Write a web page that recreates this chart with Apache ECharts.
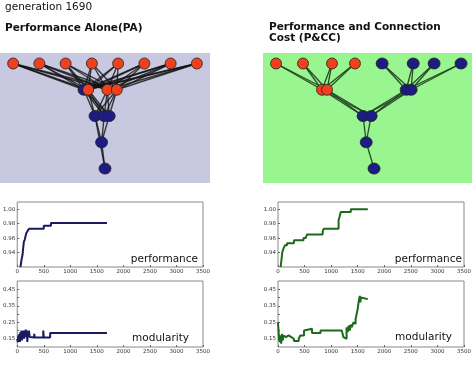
<!DOCTYPE html>
<html><head><meta charset="utf-8">
<script src="https://cdn.jsdelivr.net/npm/echarts@6/dist/echarts.min.js"></script>
<style>html,body{margin:0;padding:0;background:#fff}#c{width:474px;height:368px}</style>
</head><body><div id="c"></div>
<script>
// ---- texts ----
const generationText = 'generation 1690';
const titleLeft = 'Performance Alone(PA)';
const titleRight = 'Performance and Connection\nCost (P&CC)';
const perfLabel = 'performance';
const modLabel = 'modularity';

// ---- tick labels ----
const xTicks = [0, 500, 1000, 1500, 2000, 2500, 3000, 3500];
const perfTicks = [0.94, 0.96, 0.98, 1.00];
const modTicks = [0.15, 0.25, 0.35, 0.45];

// ---- network PA (x position, layer, group) ----
const paNodeX = [0.5, 1.5, 2.5, 3.5, 4.5, 5.5, 6.5, 7.5, 3.2, 3.36, 4.09, 4.45, 3.62, 3.97, 4.16, 3.87, 4.0];
const paNodeLayer = [0, 0, 0, 0, 0, 0, 0, 0, 1, 1, 1, 1, 2, 2, 2, 3, 4];
const paNodeGroup = ['r','r','r','r','r','r','r','r','b','r','r','r','b','b','b','b','b'];
const paEdges = [
  [0,8],[0,9],[0,10],[0,11],[1,8],[1,9],[1,10],[1,11],[2,8],[2,9],[2,10],[2,11],
  [3,8],[3,9],[3,10],[3,11],[4,8],[4,9],[4,10],[4,11],[5,8],[5,9],[5,10],[5,11],
  [6,8],[6,9],[6,10],[6,11],[7,8],[7,9],[7,10],[7,11],
  [8,12],[8,13],[8,14],[9,12],[9,13],[9,14],[10,12],[10,13],[10,14],[11,12],[11,13],[11,14],
  [12,15],[13,15],[14,15],[12,16],[15,16]
];

// ---- network P&CC ----
const pccNodeX = [0.5, 1.53, 2.64, 3.52, 4.56, 5.75, 6.55, 7.58, 2.26, 2.45, 5.48, 5.67, 3.83, 4.14, 3.95, 4.25];
const pccNodeLayer = [0, 0, 0, 0, 0, 0, 0, 0, 1, 1, 1, 1, 2, 2, 3, 4];
const pccNodeGroup = ['r','r','r','r','b','b','b','b','r','r','b','b','b','b','b','b'];
const pccEdges = [
  [0,8],[0,9],[1,8],[1,9],[2,8],[2,9],[3,8],[3,9],
  [4,10],[4,11],[5,10],[5,11],[6,10],[6,11],[7,10],[7,11],
  [8,12],[8,13],[9,12],[9,13],[10,12],[10,13],[11,12],[11,13],
  [12,14],[13,14],[14,15]
];

// ---- performance series ----
const paPerfGen = [60, 80, 100, 110, 125, 142, 160, 172, 195, 222, 500, 635, 1690];
const paPerfVal = [0.92, 0.93, 0.937, 0.945, 0.955, 0.958, 0.964, 0.967, 0.970, 0.973, 0.977, 0.981, 0.981];
const pccPerfGen = [50, 80, 100, 130, 170, 300, 480, 520, 545, 840, 860, 1140, 1160, 1180, 1370, 1690];
const pccPerfVal = [0.92, 0.94, 0.945, 0.95, 0.953, 0.957, 0.96, 0.962, 0.965, 0.969, 0.973, 0.985, 0.99, 0.996, 1.00, 1.00];

// ---- modularity series ----
const paModGen = [0, 10, 20, 30, 40, 50, 60, 70, 80, 90, 100, 110, 120, 130, 140, 150, 160, 170, 180, 190, 200, 210, 220, 235, 250, 320, 330, 490, 500, 620, 1100, 1110, 1690];
const paModVal = [0.15, 0.13, 0.17, 0.14, 0.18, 0.13, 0.19, 0.15, 0.20, 0.14, 0.19, 0.16, 0.20, 0.15, 0.20, 0.17, 0.205, 0.16, 0.20, 0.13, 0.19, 0.16, 0.20, 0.16, 0.157, 0.18, 0.157, 0.20, 0.157, 0.185, 0.175, 0.185, 0.185];
const pccModGen = [0, 20, 30, 45, 60, 75, 90, 105, 120, 150, 200, 250, 300, 390, 420, 440, 490, 520, 640, 800, 1200, 1230, 1260, 1290, 1310, 1330, 1350, 1370, 1390, 1420, 1440, 1460, 1480, 1500, 1520, 1540, 1550, 1560, 1580, 1690];
const pccModVal = [0.25, 0.15, 0.13, 0.17, 0.12, 0.18, 0.14, 0.17, 0.16, 0.17, 0.16, 0.15, 0.137, 0.15, 0.17, 0.17, 0.20, 0.21, 0.185, 0.20, 0.20, 0.16, 0.15, 0.22, 0.19, 0.23, 0.20, 0.235, 0.22, 0.25, 0.24, 0.27, 0.30, 0.33, 0.38, 0.41, 0.37, 0.40, 0.39, 0.39];

// ---- build ----
const RED = '#f0401c', BLUE = '#1c1c82';
const pair = (g, v) => g.map((x, i) => [x, v[i]]);
function nodes(xs, ls, gs) {
  return xs.map((x, i) => ({
    value: [x, ls[i]],
    symbolSize: gs[i] === 'b' ? [12, 11] : 11,
    itemStyle: { color: gs[i] === 'r' ? RED : BLUE, borderColor: '#222', borderWidth: 0.8 }
  }));
}
function links(es) { return es.map(e => ({ source: e[0], target: e[1] })); }

const chart = echarts.init(document.getElementById('c'), null, { renderer: 'canvas' });
const FONT = 'DejaVu Sans';
const netGrid = (l, w, bg) => ({ left: l, top: 53, width: w, height: 130, show: true, backgroundColor: bg, borderWidth: 0 });
const plotGrid = (l, t, h) => ({ left: l, top: t, width: 189, height: h, show: true, backgroundColor: '#fff', borderColor: '#888', borderWidth: 1 });

const hiddenX = (gi) => ({ gridIndex: gi, type: 'value', min: 0, max: 8, show: false });
const hiddenY = (gi) => ({ gridIndex: gi, type: 'value', min: -0.4, max: 4.55, inverse: true, show: false });
const plotX = (gi) => ({
  gridIndex: gi, type: 'value', min: 0, max: 3500, interval: 500,
  axisLine: { show: false }, splitLine: { show: false },
  axisTick: { inside: true, length: 2, lineStyle: { color: '#666' } },
  axisLabel: { fontSize: 5.5, color: '#333', margin: 2, fontFamily: FONT,
    formatter: v => xTicks.includes(v) ? String(v) : '' }
});
const perfY = (gi) => ({
  gridIndex: gi, type: 'value', min: 0.92, max: 1.01, interval: 0.02,
  axisLine: { show: false }, splitLine: { show: false },
  axisTick: { inside: true, length: 2, lineStyle: { color: '#666' } },
  axisLabel: { fontSize: 5.5, color: '#333', margin: 2, fontFamily: FONT, showMinLabel: false, showMaxLabel: false,
    formatter: v => perfTicks.some(t => Math.abs(t - v) < 1e-6) ? v.toFixed(2) : '' }
});
const modY = (gi) => ({
  gridIndex: gi, type: 'value', min: 0.10, max: 0.50, interval: 0.05,
  axisLine: { show: false }, splitLine: { show: false },
  axisTick: { inside: true, length: 2, lineStyle: { color: '#666' },
    interval: (i, v) => modTicks.some(t => Math.abs(t - v) < 1e-6) },
  axisLabel: { fontSize: 5.5, color: '#333', margin: 2, fontFamily: FONT, showMinLabel: false, showMaxLabel: false,
    formatter: v => modTicks.some(t => Math.abs(t - v) < 1e-6) ? v.toFixed(2) : '' }
});

const lineS = (xi, data, color) => ({
  type: 'line', xAxisIndex: xi, yAxisIndex: xi, data, step: 'end', showSymbol: false, symbol: 'none',
  lineStyle: { color, width: 2 }, animation: false, clip: true
});

const txt = (x, y, text, size, weight, align, lh) => ({
  type: 'text', x, y, style: { text, font: `${weight} ${size}px "${FONT}"`, fill: '#111', textAlign: align, textVerticalAlign: 'middle', lineHeight: lh }
});

chart.setOption({
  animation: false,
  backgroundColor: '#fff',
  grid: [
    netGrid(0, 210, '#c8c8e0'),
    netGrid(263, 209, '#98f590'),
    plotGrid(14, 202, 65),
    plotGrid(278, 202, 65),
    plotGrid(14, 281, 66),
    plotGrid(278, 281, 66)
  ],
  xAxis: [hiddenX(0), hiddenX(1), plotX(2), plotX(3), plotX(4), plotX(5)],
  yAxis: [hiddenY(0), hiddenY(1), perfY(2), perfY(3), modY(4), modY(5)],
  series: [
    { type: 'graph', coordinateSystem: 'cartesian2d', xAxisIndex: 0, yAxisIndex: 0, layout: 'none',
      data: nodes(paNodeX, paNodeLayer, paNodeGroup), links: links(paEdges),
      lineStyle: { color: '#111', width: 1.4, opacity: 0.8 }, label: { show: false }, emphasis: { disabled: true } },
    { type: 'graph', coordinateSystem: 'cartesian2d', xAxisIndex: 1, yAxisIndex: 1, layout: 'none',
      data: nodes(pccNodeX, pccNodeLayer, pccNodeGroup), links: links(pccEdges),
      lineStyle: { color: '#1d3a1d', width: 1.3, opacity: 0.9 }, label: { show: false }, emphasis: { disabled: true } },
    lineS(2, pair(paPerfGen, paPerfVal), '#1a1a60'),
    lineS(3, pair(pccPerfGen, pccPerfVal), '#1d6a1d'),
    lineS(4, pair(paModGen, paModVal), '#1a1a60'),
    lineS(5, pair(pccModGen, pccModVal), '#1d6a1d')
  ],
  graphic: [
    txt(5, 7, generationText, 10.5, 'normal', 'left'),
    txt(5, 28, titleLeft, 10.5, 'bold', 'left'),
    txt(269, 33, titleRight, 10.5, 'bold', 'left', 11),
    txt(198, 259, perfLabel, 10.5, 'normal', 'right'),
    txt(462, 259, perfLabel, 10.5, 'normal', 'right'),
    txt(189, 338, modLabel, 10.5, 'normal', 'right'),
    txt(452, 337, modLabel, 10.5, 'normal', 'right')
  ]
});
</script></body></html>
